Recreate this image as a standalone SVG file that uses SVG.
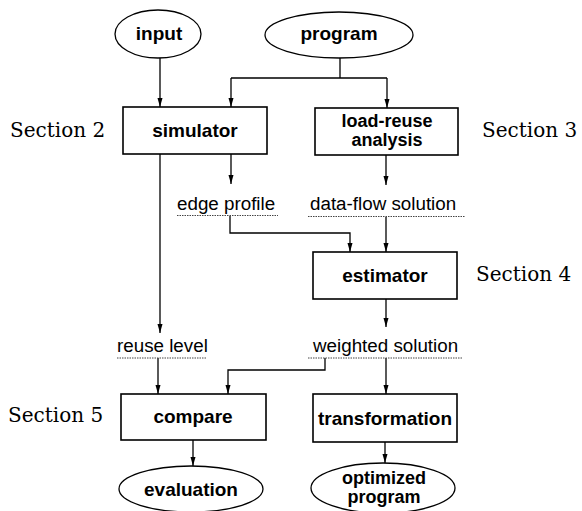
<svg xmlns="http://www.w3.org/2000/svg" width="582" height="511" viewBox="0 0 582 511">
<defs>
<marker id="ah" markerWidth="10" markerHeight="8" refX="9" refY="3" orient="auto" markerUnits="userSpaceOnUse">
<path d="M0,0.5 L9,3 L0,5.5 Z" fill="#000"/>
</marker>
<style>
.box{fill:#fff;stroke:#000;stroke-width:1.6}
.ell{fill:#fff;stroke:#000;stroke-width:1.3}
.nt{font-family:"Liberation Sans",Arial,sans-serif;font-weight:bold;font-size:19px;text-anchor:middle;fill:#000}
.nt2{font-family:"Liberation Sans",Arial,sans-serif;font-weight:bold;font-size:18px;text-anchor:middle;fill:#000}
.lb{font-family:"Liberation Sans",Arial,sans-serif;font-size:18.8px;fill:#000}
.sec{font-family:"DejaVu Serif","Liberation Serif",serif;font-size:20px;fill:#000}
.ln{fill:none;stroke:#000;stroke-width:1.3}
.ar{fill:none;stroke:#000;stroke-width:1.3;marker-end:url(#ah)}
.ul{fill:none;stroke:#444;stroke-width:1;stroke-dasharray:1.5 1}
</style>
</defs>
<rect width="582" height="511" fill="#fff"/>
<g id="connectors">
<path class="ar" d="M160,58 V107"/>
<path class="ln" d="M340,58 V78 M231,78 H387"/>
<path class="ar" d="M231,78 V107"/>
<path class="ar" d="M387,78 V108"/>
<path class="ar" d="M160,154 V333"/>
<path class="ar" d="M231,154 V184"/>
<path class="ar" d="M386,155 V185"/>
<path class="ar" d="M230,216 V233 H350 V252"/>
<path class="ar" d="M386,217 V252"/>
<path class="ar" d="M386,299 V327"/>
<path class="ar" d="M325,358 V370 H228 V394"/>
<path class="ar" d="M386,358 V394"/>
<path class="ar" d="M158,358 V394"/>
<path class="ar" d="M193,440 V466"/>
<path class="ar" d="M385,442 V463"/>
</g>
<g id="input"><ellipse class="ell" cx="158" cy="34" rx="43" ry="24"/><text class="nt" x="159" y="40">input</text></g>
<g id="program"><ellipse class="ell" cx="339" cy="35" rx="74" ry="23"/><text class="nt" x="339" y="40">program</text></g>
<g id="simulator"><rect class="box" x="123" y="107" width="144" height="47"/><text class="nt" x="195" y="137">simulator</text></g>
<g id="load-reuse"><rect class="box" x="315" y="108" width="143" height="47"/><text class="nt2" x="387" y="127">load-reuse</text><text class="nt2" x="387" y="146">analysis</text></g>
<g id="edge-profile"><text class="lb" x="177" y="210">edge profile</text><path class="ul" d="M177,215.5 H278"/></g>
<g id="data-flow-solution"><text class="lb" x="310" y="210">data-flow solution</text><path class="ul" d="M308,216.5 H465"/></g>
<g id="estimator"><rect class="box" x="313" y="252" width="144" height="47"/><text class="nt" x="385" y="282">estimator</text></g>
<g id="reuse-level"><text class="lb" x="117" y="352">reuse level</text><path class="ul" d="M117,358 H207"/></g>
<g id="weighted-solution"><text class="lb" x="313" y="352">weighted solution</text><path class="ul" d="M308,358 H463"/></g>
<g id="compare"><rect class="box" x="121" y="394" width="145" height="46"/><text class="nt" x="193" y="423">compare</text></g>
<g id="transformation"><rect class="box" x="313" y="394" width="144" height="48"/><text class="nt" x="385" y="425">transformation</text></g>
<g id="evaluation"><ellipse class="ell" cx="191" cy="489" rx="72" ry="23"/><text class="nt" x="191" y="496">evaluation</text></g>
<g id="optimized-program"><ellipse class="ell" cx="383" cy="488" rx="72" ry="25"/><text class="nt2" x="384" y="484">optimized</text><text class="nt2" x="384" y="503">program</text></g>
<g id="sections">
<text class="sec" x="10" y="137">Section 2</text>
<text class="sec" x="482" y="137">Section 3</text>
<text class="sec" x="476" y="281">Section 4</text>
<text class="sec" x="8" y="422">Section 5</text>
</g>
</svg>
